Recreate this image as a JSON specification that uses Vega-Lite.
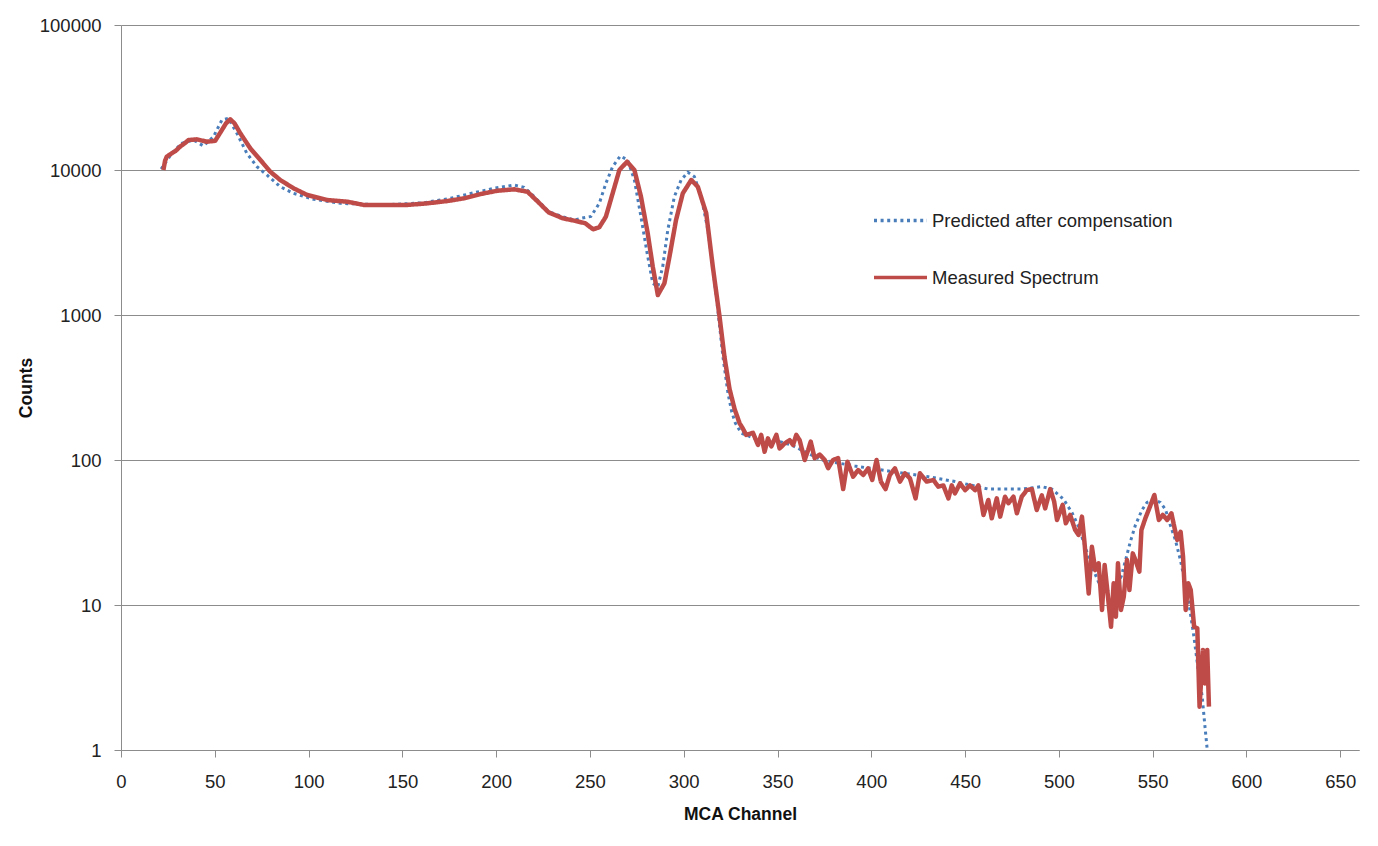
{
  "$schema": "https://vega.github.io/schema/vega-lite/v6.json",
  "width": 1238,
  "height": 725,
  "autosize": {"type": "none"},
  "padding": {"left": 121, "top": 25, "right": 19, "bottom": 96},
  "background": "white",
  "config": {
    "font": "Liberation Sans",
    "view": {"stroke": null},
    "axis": {
      "domainColor": "#8c8c8c",
      "tickColor": "#8c8c8c",
      "gridColor": "#8c8c8c",
      "domainWidth": 1,
      "tickWidth": 1,
      "gridWidth": 1,
      "tickSize": 7,
      "labelFont": "Liberation Sans",
      "labelFontSize": 18.5,
      "labelColor": "#222222",
      "titleFont": "Liberation Sans",
      "titleFontSize": 17.5,
      "titleFontWeight": "bold",
      "titleColor": "#111111"
    }
  },
  "datasets": {
    "measured": [
      {"channel": 22.6, "counts": 10000}, {"channel": 23.5, "counts": 11600}, {"channel": 24.4, "counts": 12360},
      {"channel": 27, "counts": 13030}, {"channel": 29, "counts": 13500}, {"channel": 31.5, "counts": 14490},
      {"channel": 34, "counts": 15300}, {"channel": 36, "counts": 16100}, {"channel": 40.4, "counts": 16270},
      {"channel": 45.8, "counts": 15670}, {"channel": 50.2, "counts": 15900}, {"channel": 53.8, "counts": 18880},
      {"channel": 56, "counts": 21000}, {"channel": 58.2, "counts": 22380}, {"channel": 60.5, "counts": 21000},
      {"channel": 63.6, "counts": 17900}, {"channel": 68.9, "counts": 14120}, {"channel": 74.3, "counts": 11720},
      {"channel": 79.6, "counts": 9730}, {"channel": 84.9, "counts": 8530}, {"channel": 92, "counts": 7480},
      {"channel": 99.2, "counts": 6730}, {"channel": 109.9, "counts": 6210}, {"channel": 120.6, "counts": 6045},
      {"channel": 129.5, "counts": 5740}, {"channel": 140, "counts": 5740}, {"channel": 152.6, "counts": 5740},
      {"channel": 163.3, "counts": 5890}, {"channel": 174, "counts": 6110}, {"channel": 182.9, "counts": 6380},
      {"channel": 191.8, "counts": 6830}, {"channel": 200.7, "counts": 7200}, {"channel": 209.6, "counts": 7360},
      {"channel": 216.7, "counts": 7080}, {"channel": 222.5, "counts": 6000}, {"channel": 228, "counts": 5100},
      {"channel": 235.5, "counts": 4645}, {"channel": 242.5, "counts": 4450}, {"channel": 247.5, "counts": 4290},
      {"channel": 251.7, "counts": 3900}, {"channel": 255, "counts": 4030}, {"channel": 258.5, "counts": 4765},
      {"channel": 262.1, "counts": 6900}, {"channel": 265.7, "counts": 10000}, {"channel": 269.8, "counts": 11410},
      {"channel": 273.7, "counts": 10000}, {"channel": 277.2, "counts": 6550}, {"channel": 280.8, "counts": 3660},
      {"channel": 283.5, "counts": 2155}, {"channel": 286.2, "counts": 1373}, {"channel": 289.7, "counts": 1655},
      {"channel": 292.4, "counts": 2523}, {"channel": 295.9, "counts": 4520}, {"channel": 299.5, "counts": 6900},
      {"channel": 304, "counts": 8530}, {"channel": 307.5, "counts": 7670}, {"channel": 312, "counts": 5030},
      {"channel": 315.5, "counts": 2155}, {"channel": 319.1, "counts": 973}, {"channel": 321.7, "counts": 516},
      {"channel": 324.4, "counts": 310}, {"channel": 327.1, "counts": 225}, {"channel": 329.8, "counts": 179},
      {"channel": 331.5, "counts": 165}, {"channel": 333.3, "counts": 149}, {"channel": 336.9, "counts": 154},
      {"channel": 339.6, "counts": 127}, {"channel": 341.3, "counts": 149}, {"channel": 343.1, "counts": 114},
      {"channel": 344.9, "counts": 141}, {"channel": 346.7, "counts": 124}, {"channel": 349.4, "counts": 149},
      {"channel": 351.1, "counts": 120}, {"channel": 353.8, "counts": 130}, {"channel": 356.5, "counts": 137},
      {"channel": 358.3, "counts": 127}, {"channel": 360, "counts": 149}, {"channel": 361.8, "counts": 137},
      {"channel": 364.5, "counts": 100}, {"channel": 366.3, "counts": 117}, {"channel": 367.7, "counts": 134},
      {"channel": 369.8, "counts": 103}, {"channel": 372.5, "counts": 109}, {"channel": 375.2, "counts": 100},
      {"channel": 377, "counts": 87.7}, {"channel": 379.6, "counts": 100}, {"channel": 382.3, "counts": 103},
      {"channel": 385, "counts": 63}, {"channel": 387.3, "counts": 97.3}, {"channel": 390.3, "counts": 76.7},
      {"channel": 393, "counts": 85.3}, {"channel": 395.7, "counts": 78.8}, {"channel": 398.3, "counts": 87.7},
      {"channel": 400.5, "counts": 72.8}, {"channel": 402.8, "counts": 100}, {"channel": 405.1, "counts": 71},
      {"channel": 407.6, "counts": 63}, {"channel": 409.9, "counts": 78.8}, {"channel": 412.6, "counts": 87.7},
      {"channel": 415.3, "counts": 71}, {"channel": 417.9, "counts": 81}, {"channel": 420.6, "counts": 74.8},
      {"channel": 423.6, "counts": 54.4}, {"channel": 425.9, "counts": 81}, {"channel": 429.5, "counts": 71},
      {"channel": 433.1, "counts": 72.8}, {"channel": 435.7, "counts": 65.5}, {"channel": 438.4, "counts": 66.8},
      {"channel": 441.1, "counts": 54.4}, {"channel": 442.9, "counts": 66.8}, {"channel": 444.6, "counts": 58.9},
      {"channel": 447.3, "counts": 69}, {"channel": 450, "counts": 62}, {"channel": 452.6, "counts": 66.8},
      {"channel": 455.3, "counts": 62}, {"channel": 457.1, "counts": 66.8}, {"channel": 459.8, "counts": 41.8},
      {"channel": 462.4, "counts": 53}, {"channel": 464.2, "counts": 39.6}, {"channel": 466.9, "counts": 54.4},
      {"channel": 468.7, "counts": 40.7}, {"channel": 471.3, "counts": 55.8}, {"channel": 473.1, "counts": 50.3},
      {"channel": 475.8, "counts": 55.8}, {"channel": 477.6, "counts": 42.9}, {"channel": 480.2, "counts": 55.8},
      {"channel": 482.9, "counts": 62}, {"channel": 485.6, "counts": 63}, {"channel": 488.2, "counts": 45.2},
      {"channel": 490.9, "counts": 57}, {"channel": 492.7, "counts": 46.4}, {"channel": 495.4, "counts": 63},
      {"channel": 497.5, "counts": 51.6}, {"channel": 499, "counts": 38.6}, {"channel": 502, "counts": 49},
      {"channel": 503.7, "counts": 36.6}, {"channel": 506, "counts": 41.8}, {"channel": 508.7, "counts": 32.9},
      {"channel": 510.5, "counts": 30.4}, {"channel": 512.3, "counts": 40.7}, {"channel": 513.7, "counts": 26.6},
      {"channel": 515.9, "counts": 12}, {"channel": 517.6, "counts": 25.2}, {"channel": 519.4, "counts": 17.4},
      {"channel": 521.2, "counts": 19.4}, {"channel": 523, "counts": 9.24}, {"channel": 524.4, "counts": 18.9},
      {"channel": 526, "counts": 12}, {"channel": 527.8, "counts": 7.08}, {"channel": 529.2, "counts": 14.1},
      {"channel": 530.4, "counts": 8.3}, {"channel": 531.5, "counts": 19.4}, {"channel": 533.1, "counts": 9.24},
      {"channel": 534.6, "counts": 11.4}, {"channel": 536.3, "counts": 20.4}, {"channel": 537.6, "counts": 12.7},
      {"channel": 539.4, "counts": 22.7}, {"channel": 540.8, "counts": 20.4}, {"channel": 542.9, "counts": 17},
      {"channel": 544, "counts": 32.9}, {"channel": 546.1, "counts": 39.6}, {"channel": 548.2, "counts": 46.4},
      {"channel": 550.9, "counts": 57.4}, {"channel": 553.3, "counts": 38.6}, {"channel": 555.4, "counts": 41.8},
      {"channel": 557.7, "counts": 38.6}, {"channel": 560, "counts": 42.9}, {"channel": 561.9, "counts": 32.9},
      {"channel": 563.1, "counts": 28.1}, {"channel": 564.9, "counts": 32}, {"channel": 566.2, "counts": 21.5},
      {"channel": 567.6, "counts": 9.24}, {"channel": 569, "counts": 14.1}, {"channel": 570.3, "counts": 12.7},
      {"channel": 572.1, "counts": 7.08}, {"channel": 573.8, "counts": 6.9}, {"channel": 575, "counts": 1.99},
      {"channel": 576.8, "counts": 4.9}, {"channel": 577.8, "counts": 2.88}, {"channel": 579.1, "counts": 4.9},
      {"channel": 580, "counts": 1.99}
    ],
    "predicted": [
      {"channel": 21.4, "counts": 10160}, {"channel": 27, "counts": 13000}, {"channel": 32.4, "counts": 15280},
      {"channel": 38.6, "counts": 16100}, {"channel": 44, "counts": 14650}, {"channel": 49.3, "counts": 16980},
      {"channel": 53.8, "counts": 22130}, {"channel": 57.3, "counts": 22730}, {"channel": 61.8, "counts": 17900},
      {"channel": 67.1, "counts": 13030}, {"channel": 72.5, "counts": 10540}, {"channel": 77.8, "counts": 9240},
      {"channel": 84.9, "counts": 7670}, {"channel": 92, "counts": 6900}, {"channel": 102.7, "counts": 6280},
      {"channel": 117, "counts": 5890}, {"channel": 140, "counts": 5740}, {"channel": 161.5, "counts": 5945},
      {"channel": 175.7, "counts": 6380}, {"channel": 188.2, "counts": 6970}, {"channel": 198.9, "counts": 7480},
      {"channel": 209.6, "counts": 7880}, {"channel": 214.9, "counts": 7600}, {"channel": 220.3, "counts": 6550},
      {"channel": 228, "counts": 5150}, {"channel": 238, "counts": 4645}, {"channel": 241.6, "counts": 4520},
      {"channel": 245.2, "counts": 4645}, {"channel": 250.5, "counts": 4780}, {"channel": 255, "counts": 5890},
      {"channel": 258.5, "counts": 8090}, {"channel": 262.1, "counts": 10540}, {"channel": 266.2, "counts": 12500},
      {"channel": 270.1, "counts": 11720}, {"channel": 273.7, "counts": 8530}, {"channel": 277.2, "counts": 4765},
      {"channel": 280.5, "counts": 2663}, {"channel": 283.5, "counts": 1655}, {"channel": 286.2, "counts": 1567},
      {"channel": 288.8, "counts": 2155}, {"channel": 291.5, "counts": 3855}, {"channel": 295, "counts": 6550},
      {"channel": 298.6, "counts": 8530}, {"channel": 302.2, "counts": 9640}, {"channel": 305.7, "counts": 8990},
      {"channel": 309.3, "counts": 6550}, {"channel": 312.9, "counts": 3855}, {"channel": 315.5, "counts": 2155},
      {"channel": 318.2, "counts": 1082}, {"channel": 320.9, "counts": 516}, {"channel": 323.6, "counts": 288},
      {"channel": 325.6, "counts": 215}, {"channel": 327.5, "counts": 180}, {"channel": 330.7, "counts": 153},
      {"channel": 337.8, "counts": 141}, {"channel": 346.7, "counts": 139}, {"channel": 357.4, "counts": 127},
      {"channel": 373.4, "counts": 100}, {"channel": 391.2, "counts": 90.9}, {"channel": 409, "counts": 84},
      {"channel": 430.4, "counts": 76.7}, {"channel": 444.6, "counts": 71}, {"channel": 462.4, "counts": 63},
      {"channel": 480.2, "counts": 63}, {"channel": 490.9, "counts": 65.5}, {"channel": 496.3, "counts": 63},
      {"channel": 498.9, "counts": 58.9}, {"channel": 502.5, "counts": 53.6}, {"channel": 507, "counts": 43.3},
      {"channel": 510.5, "counts": 34.7}, {"channel": 514, "counts": 25.2}, {"channel": 517.6, "counts": 18.4},
      {"channel": 520.3, "counts": 15.3}, {"channel": 522.1, "counts": 13.4}, {"channel": 526.5, "counts": 12.7},
      {"channel": 530, "counts": 13.4}, {"channel": 533.3, "counts": 15.8}, {"channel": 535.8, "counts": 21},
      {"channel": 538.1, "counts": 27.3}, {"channel": 540.8, "counts": 35.6}, {"channel": 544.3, "counts": 45.2},
      {"channel": 547, "counts": 51}, {"channel": 550.6, "counts": 53}, {"channel": 554.1, "counts": 51},
      {"channel": 556.8, "counts": 45.7}, {"channel": 559.4, "counts": 35.6}, {"channel": 562.1, "counts": 28.1},
      {"channel": 564.8, "counts": 20.4}, {"channel": 566.6, "counts": 15.7}, {"channel": 569.3, "counts": 10.3},
      {"channel": 572, "counts": 6.04}, {"channel": 574.3, "counts": 3.56}, {"channel": 576.4, "counts": 2.33},
      {"channel": 577.8, "counts": 1.49}, {"channel": 579.1, "counts": 1}
    ]
  },
  "encoding": {
    "x": {
      "field": "channel",
      "type": "quantitative",
      "scale": {"domain": [0, 660], "nice": false, "zero": false},
      "axis": {
        "title": "MCA Channel",
        "values": [0, 50, 100, 150, 200, 250, 300, 350, 400, 450, 500, 550, 600, 650],
        "grid": false,
        "labelPadding": 15,
        "titlePadding": 15,
        "labelFlush": false
      }
    },
    "y": {
      "field": "counts",
      "type": "quantitative",
      "scale": {"type": "log", "domain": [1, 100000], "nice": false},
      "axis": {
        "title": "Counts",
        "values": [1, 10, 100, 1000, 10000, 100000],
        "format": "d",
        "grid": true,
        "labelPadding": 13,
        "titlePadding": 4,
        "labelFlush": false
      }
    },
    "color": {
      "field": "series",
      "type": "nominal",
      "scale": {
        "domain": ["Predicted after compensation", "Measured Spectrum"],
        "range": ["#4a7ebb", "#be4b48"]
      },
      "legend": {
        "title": null,
        "orient": "none",
        "legendX": 751,
        "legendY": 167,
        "symbolType": "stroke",
        "symbolSize": 2809,
        "symbolStrokeWidth": 3.5,
        "labelFontSize": 18.5,
        "labelFont": "Liberation Sans",
        "labelColor": "#222222",
        "labelOffset": 3,
        "labelLimit": 0,
        "rowPadding": 19
      }
    },
    "strokeDash": {
      "field": "series",
      "type": "nominal",
      "scale": {
        "domain": ["Predicted after compensation", "Measured Spectrum"],
        "range": [[3, 3.6], [1, 0]]
      },
      "legend": {
        "title": null,
        "orient": "none",
        "legendX": 751,
        "legendY": 167,
        "symbolType": "stroke",
        "symbolSize": 2809,
        "symbolStrokeWidth": 3.5,
        "labelFontSize": 18.5,
        "labelFont": "Liberation Sans",
        "labelColor": "#222222",
        "labelOffset": 3,
        "labelLimit": 0,
        "rowPadding": 19
      }
    }
  },
  "layer": [
    {
      "data": {"name": "predicted"},
      "transform": [{"calculate": "'Predicted after compensation'", "as": "series"}],
      "mark": {"type": "line", "strokeWidth": 3, "clip": true}
    },
    {
      "data": {"name": "measured"},
      "transform": [{"calculate": "'Measured Spectrum'", "as": "series"}],
      "mark": {"type": "line", "strokeWidth": 4.5, "clip": true, "strokeJoin": "round"}
    }
  ]
}
